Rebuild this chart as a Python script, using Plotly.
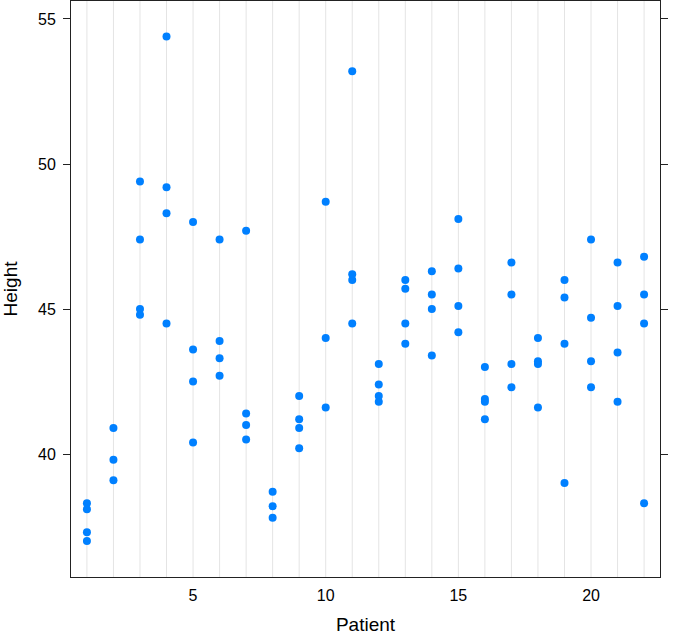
import plotly.graph_objects as go

patient = (
    [1] * 4 + [2] * 3 + [3] * 4 + [4] * 4 + [5] * 4 + [6] * 4 + [7] * 4
    + [8] * 3 + [9] * 4 + [10] * 3 + [11] * 4 + [12] * 4 + [13] * 4
    + [14] * 4 + [15] * 4 + [16] * 4 + [17] * 4 + [18] * 4 + [19] * 4
    + [20] * 4 + [21] * 4 + [22] * 4
)
height = [
    38.3, 38.1, 37.3, 37.0,          # 1
    40.9, 39.8, 39.1,                # 2
    49.4, 47.4, 45.0, 44.8,          # 3
    54.4, 49.2, 48.3, 44.5,          # 4
    48.0, 43.6, 42.5, 40.4,          # 5
    47.4, 43.9, 43.3, 42.7,          # 6
    47.7, 41.4, 41.0, 40.5,          # 7
    38.7, 38.2, 37.8,                # 8
    42.0, 41.2, 40.9, 40.2,          # 9
    48.7, 44.0, 41.6,                # 10
    53.2, 46.2, 46.0, 44.5,          # 11
    43.1, 42.4, 42.0, 41.8,          # 12
    46.0, 45.7, 44.5, 43.8,          # 13
    46.3, 45.5, 45.0, 43.4,          # 14
    48.1, 46.4, 45.1, 44.2,          # 15
    43.0, 41.9, 41.8, 41.2,          # 16
    46.6, 45.5, 43.1, 42.3,          # 17
    44.0, 43.2, 43.1, 41.6,          # 18
    46.0, 45.4, 43.8, 39.0,          # 19
    47.4, 44.7, 43.2, 42.3,          # 20
    46.6, 45.1, 43.5, 41.8,          # 21
    46.8, 45.5, 44.5, 38.3,          # 22
]
patient_ticks = [5, 10, 15, 20]
height_ticks = [40, 45, 50, 55]

FONT = "Liberation Sans, Arial, sans-serif"

fig = go.Figure()
fig.add_trace(
    go.Scatter(
        x=patient,
        y=height,
        mode="markers",
        marker=dict(color="#0080ff", size=8),
        showlegend=False,
    )
)

axis_font = dict(family=FONT, size=16, color="#000")
title_font = dict(family=FONT, size=19, color="#000")
fig.update_xaxes(
    range=[0.4, 22.6],
    tickvals=patient_ticks,
    ticks="",
    ticklabelstandoff=4,
    showgrid=False,
    zeroline=False,
    showline=True,
    linecolor="#222",
    linewidth=1,
    mirror=True,
    automargin=False,
    tickfont=axis_font,
    title=dict(text="Patient", font=title_font, standoff=19),
)
fig.update_yaxes(
    range=[35.76, 55.62],
    tickvals=height_ticks,
    ticks="outside",
    ticklen=7,
    tickcolor="#222",
    ticklabelstandoff=4,
    showgrid=False,
    zeroline=False,
    showline=True,
    linecolor="#222",
    linewidth=1,
    mirror="ticks",
    automargin=False,
    tickfont=axis_font,
    title=dict(text="Height", font=title_font, standoff=17),
)

# light vertical reference line at every patient, as in the lattice panel
for p in sorted(set(patient)):
    fig.add_vline(x=p, line=dict(color="#e4e4e4", width=1), layer="below")

fig.update_layout(
    width=674,
    height=635,
    margin=dict(l=71, r=14, t=1, b=58, autoexpand=False),
    plot_bgcolor="white",
    paper_bgcolor="white",
)

# drop the browser's default 8px body margin so the figure fills the window
fig.write_html(
    "out.html",
    config={"displayModeBar": False},
    post_script="document.body.style.margin = '0';",
)
